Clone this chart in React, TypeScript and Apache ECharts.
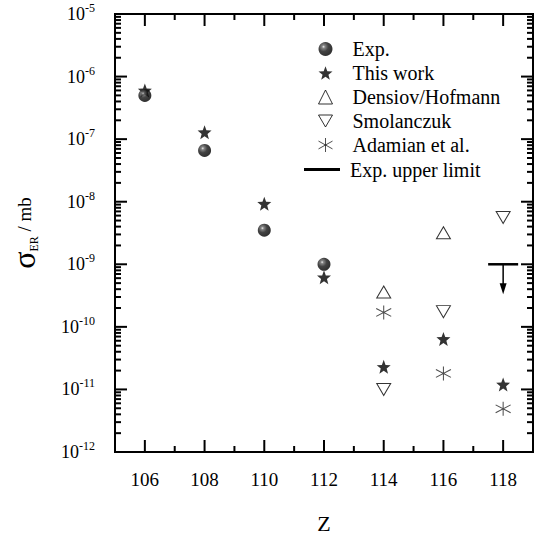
import React, { useEffect, useRef } from 'react';
import * as echarts from 'echarts';

// ---- data ----
const expZ = [106, 108, 110, 112];
const expValues = [5.0e-7, 6.6e-8, 3.5e-9, 1.0e-9];

const thisWorkZ = [106, 108, 110, 112, 114, 116, 118];
const thisWorkValues = [6.0e-7, 1.29e-7, 9.3e-9, 6.2e-10, 2.3e-11, 6.4e-11, 1.2e-11];

const denisovZ = [114, 116];
const denisovValues = [3.6e-10, 3.2e-9];

const smolanczukZ = [114, 116, 118];
const smolanczukValues = [1.0e-11, 1.75e-10, 5.6e-9];

const adamianZ = [114, 116, 118];
const adamianValues = [1.7e-10, 1.8e-11, 4.9e-12];

const upperLimitZ = [118];
const upperLimitValues = [1.0e-9];

const xMin = 105;
const xMax = 119;
const yMin = 1e-12;
const yMax = 1e-5;
const xMajorTicks = [106, 108, 110, 112, 114, 116, 118];
const xMinorTicks = [107, 109, 111, 113, 115, 117];
const yDecadeExponents = [-12, -11, -10, -9, -8, -7, -6, -5];
const minorMultipliers = [2, 3, 4, 5, 6, 7, 8, 9];

const legendNames = ['Exp.', 'This work', 'Densiov/Hofmann', 'Smolanczuk', 'Adamian et al.'];
const upperLimitName = 'Exp. upper limit';

const FONT = 'Liberation Serif';

const STAR =
  'path://M50,0 L62.35,33 L97.55,34.55 L69.95,56.5 L79.4,90.45 L50,71 L20.6,90.45 L30.05,56.5 L2.45,34.55 L37.65,33 Z';
const DOWN_TRIANGLE = 'path://M0,0 L140,0 L70,120 Z';
const ASTERISK = 'path://M50,0 L50,100 M0,22 L100,78 M0,78 L100,22';

const pair = (xs: number[], ys: number[]) => xs.map((x, i) => [x, ys[i]]);

export default function App() {
  const ref = useRef<HTMLDivElement>(null);

  useEffect(() => {
    const chart = echarts.init(ref.current!, null, { renderer: 'svg' });
    const black = '#000';

    const sphere = new echarts.graphic.RadialGradient(0.36, 0.34, 0.62, [
      { offset: 0, color: '#e8e8e8' },
      { offset: 0.18, color: '#666' },
      { offset: 0.55, color: '#141414' },
      { offset: 1, color: '#000' },
    ]);

    const yMajorValues = yDecadeExponents.map((e) => Math.pow(10, e));
    const yMinorValues: number[] = [];
    yDecadeExponents.slice(0, -1).forEach((e) =>
      minorMultipliers.forEach((k) => yMinorValues.push(k * Math.pow(10, e)))
    );

    const frameSeries = {
      name: 'frame',
      type: 'custom',
      data: [[112, 1e-8]],
      renderItem: (_params: any, api: any) => {
        const a = api.coord([xMin, yMin]);
        const b = api.coord([xMax, yMax]);
        return {
          type: 'rect',
          shape: { x: a[0], y: b[1], width: b[0] - a[0], height: a[1] - b[1] },
          style: { fill: 'none', stroke: black, lineWidth: 2 },
        };
      },
    };

    const xTickSeries = (name: string, vals: number[], len: number) => ({
      name,
      type: 'custom',
      data: vals.map((v) => [v, 1e-8]),
      renderItem: (_params: any, api: any) => {
        const v = api.value(0);
        const b = api.coord([v, yMin]);
        const t = api.coord([v, yMax]);
        return {
          type: 'group',
          children: [
            { type: 'line', shape: { x1: b[0], y1: b[1], x2: b[0], y2: b[1] - len }, style: { stroke: black, lineWidth: 2 } },
            { type: 'line', shape: { x1: t[0], y1: t[1], x2: t[0], y2: t[1] + len }, style: { stroke: black, lineWidth: 2 } },
          ],
        };
      },
    });
    const yTickSeries = (name: string, vals: number[], len: number) => ({
      name,
      type: 'custom',
      data: vals.map((v) => [112, v]),
      renderItem: (_params: any, api: any) => {
        const v = api.value(1);
        const l = api.coord([xMin, v]);
        const r = api.coord([xMax, v]);
        return {
          type: 'group',
          children: [
            { type: 'line', shape: { x1: l[0], y1: l[1], x2: l[0] + len, y2: l[1] }, style: { stroke: black, lineWidth: 2 } },
            { type: 'line', shape: { x1: r[0], y1: r[1], x2: r[0] - len, y2: r[1] }, style: { stroke: black, lineWidth: 2 } },
          ],
        };
      },
    });

    const option: any = {
      animation: false,
      backgroundColor: '#fff',
      textStyle: { fontFamily: FONT },
      grid: { left: 110, right: 12, top: 14, bottom: 79 },
      xAxis: {
        type: 'value',
        position: 'bottom',
        min: xMin,
        max: xMax,
        axisLine: { show: false },
        axisTick: { show: false },
        axisLabel: {
          customValues: xMajorTicks,
          margin: 18,
          fontSize: 19,
          fontFamily: FONT,
          color: black,
        },
        splitLine: { show: false },
        name: 'Z',
        nameLocation: 'middle',
        nameGap: 60,
        nameTextStyle: { fontSize: 22, fontFamily: FONT, color: black },
      },
      yAxis: {
        type: 'log',
        logBase: 10,
        position: 'left',
        min: yMin,
        max: yMax,
        axisLine: { show: false },
        axisTick: { show: false },
        minorTick: { show: false },
        axisLabel: {
          margin: 20,
          formatter: (v: number) => `{b|10}{s|${Math.round(Math.log10(v))}}`,
          rich: {
            b: { fontSize: 18, fontFamily: FONT, color: black },
            s: { fontSize: 12, fontFamily: FONT, color: black, padding: [0, 0, 12, 0] },
          },
        },
        splitLine: { show: false },
        name: '{a|σ}{b|ER}{c| / mb}',
        nameLocation: 'middle',
        nameGap: 75,
        nameTextStyle: {
          rich: {
            a: { fontSize: 32, fontFamily: FONT, color: black },
            b: { fontSize: 12, fontFamily: FONT, color: black, padding: [20, 0, 0, 0] },
            c: { fontSize: 19, fontFamily: FONT, color: black },
          },
        },
      },
      legend: [
        {
          data: [
            { name: 'Exp.' },
            { name: 'This work' },
            { name: 'Densiov/Hofmann' },
            { name: 'Smolanczuk', icon: DOWN_TRIANGLE },
            { name: 'Adamian et al.' },
          ].filter((d) => legendNames.includes(d.name)),
          orient: 'vertical',
          left: 316,
          top: 39,
          padding: 0,
          itemWidth: 14,
          itemHeight: 14,
          itemGap: 4,
          selectedMode: false,
          itemStyle: { borderWidth: 1 },
          textStyle: {
            fontSize: 20,
            fontFamily: FONT,
            color: black,
            padding: [0, 0, 0, 15],
          },
        },
        {
          data: [{ name: upperLimitName, icon: 'rect' }],
          orient: 'vertical',
          left: 304,
          top: 159.5,
          padding: 0,
          itemWidth: 36,
          itemHeight: 3,
          selectedMode: false,
          itemStyle: { color: black, borderWidth: 0 },
          textStyle: {
            fontSize: 20,
            fontFamily: FONT,
            color: black,
            padding: [0, 0, 0, 5],
          },
        },
      ],
      series: [
        frameSeries,
        xTickSeries('xMajorTicks', xMajorTicks, 12),
        xTickSeries('xMinorTicks', xMinorTicks, 6),
        yTickSeries('yMajorTicks', yMajorValues, 12),
        yTickSeries('yMinorTicks', yMinorValues, 6),
        {
          name: 'This work',
          type: 'scatter',
          symbol: STAR,
          symbolSize: 14,
          itemStyle: { color: black },
          data: pair(thisWorkZ, thisWorkValues),
        },
        {
          name: 'Exp.',
          type: 'scatter',
          symbol: 'circle',
          symbolSize: 13,
          itemStyle: { color: sphere },
          data: pair(expZ, expValues),
        },
        {
          name: 'Densiov/Hofmann',
          type: 'scatter',
          symbol: 'triangle',
          symbolSize: [14, 12],
          itemStyle: { color: '#fff', borderColor: black, borderWidth: 1 },
          data: pair(denisovZ, denisovValues),
        },
        {
          name: 'Smolanczuk',
          type: 'scatter',
          symbol: DOWN_TRIANGLE,
          symbolSize: [14, 12],
          itemStyle: { color: '#fff', borderColor: black, borderWidth: 1 },
          data: pair(smolanczukZ, smolanczukValues),
        },
        {
          name: 'Adamian et al.',
          type: 'scatter',
          symbol: ASTERISK,
          symbolSize: [15, 14],
          itemStyle: { color: 'none', borderColor: '#222', borderWidth: 1 },
          data: pair(adamianZ, adamianValues),
        },
        {
          name: upperLimitName,
          type: 'custom',
          itemStyle: { color: black },
          data: pair(upperLimitZ, upperLimitValues),
          renderItem: (_params: any, api: any) => {
            const p = api.coord([api.value(0), api.value(1)]);
            const x = p[0];
            const y = p[1];
            return {
              type: 'group',
              children: [
                { type: 'line', shape: { x1: x - 15, y1: y, x2: x + 15, y2: y }, style: { stroke: black, lineWidth: 2.5 } },
                { type: 'line', shape: { x1: x, y1: y, x2: x, y2: y + 22 }, style: { stroke: black, lineWidth: 1.5 } },
                {
                  type: 'polygon',
                  shape: { points: [[x - 3.5, y + 19], [x + 3.5, y + 19], [x, y + 30]] },
                  style: { fill: black },
                },
              ],
            };
          },
        },
      ],
    };

    chart.setOption(option);
    return () => chart.dispose();
  }, []);

  return <div ref={ref} style={{ position: 'fixed', left: 0, top: 0, width: 545, height: 539 }} />;
}
